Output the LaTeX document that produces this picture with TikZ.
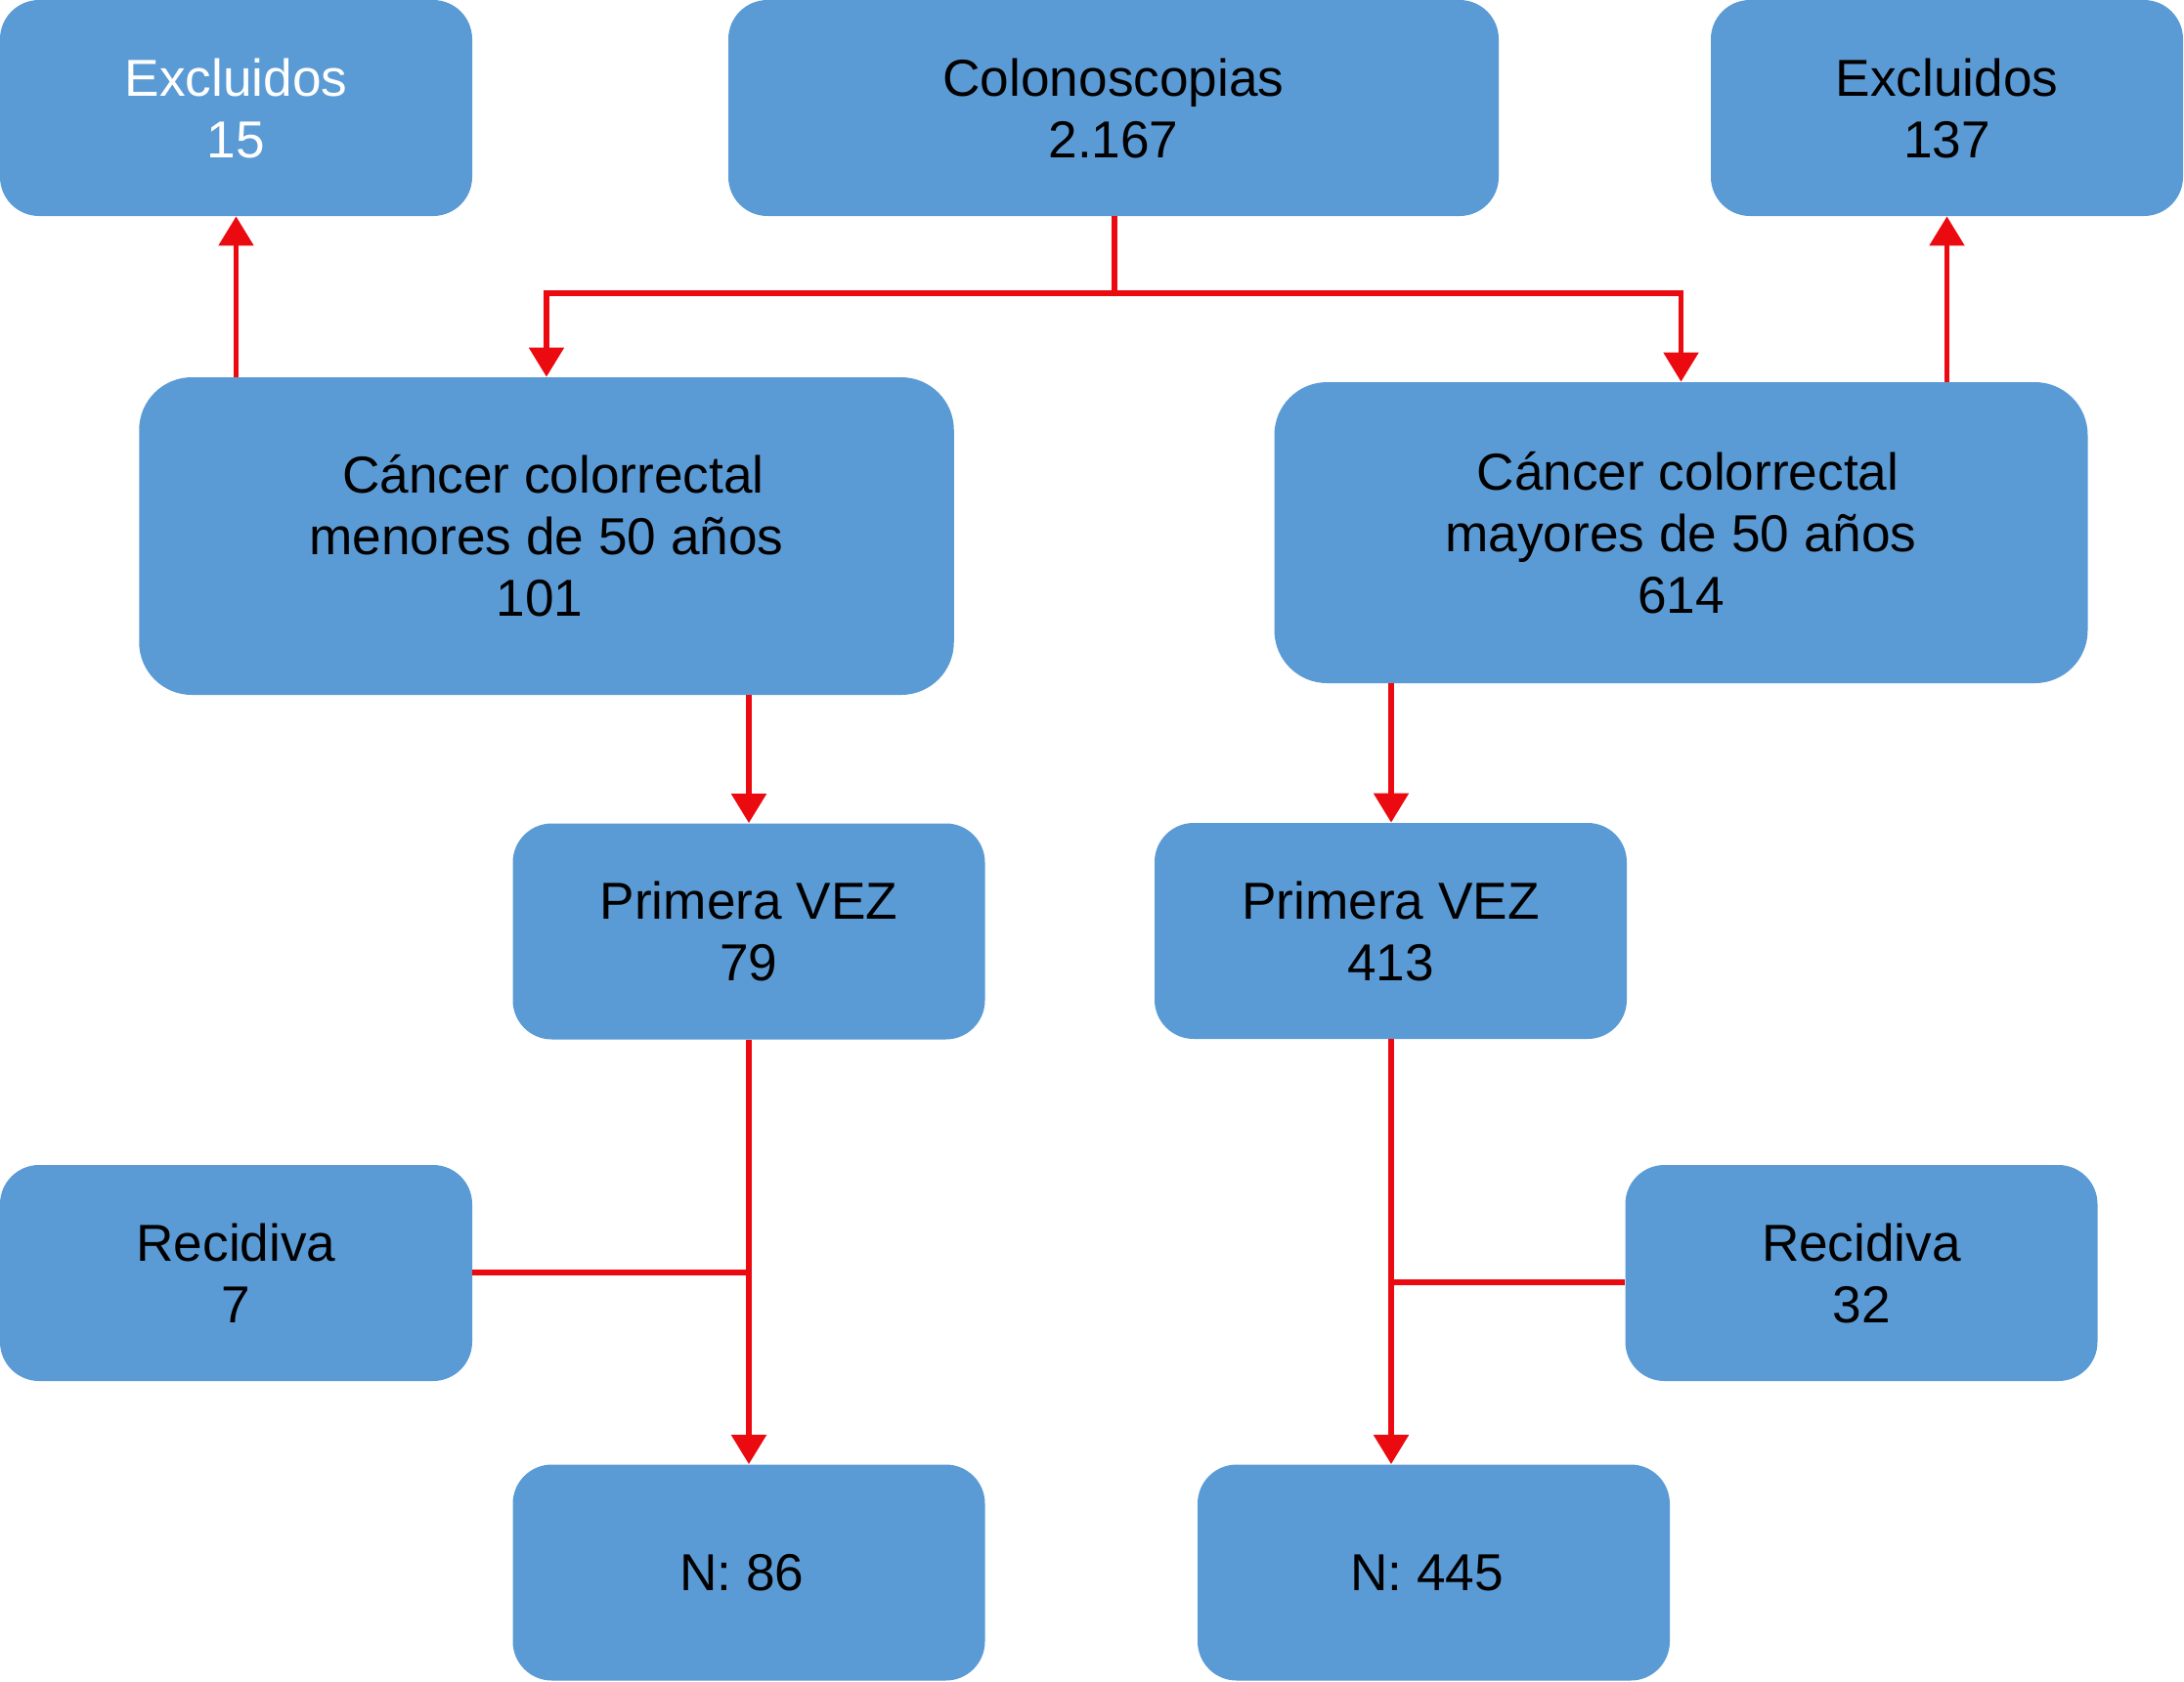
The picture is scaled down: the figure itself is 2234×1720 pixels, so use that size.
\documentclass[tikz,border=0pt]{standalone}
\usepackage{fontspec}
\setmainfont{Liberation Sans}
\usetikzlibrary{arrows.meta}
\definecolor{boxblue}{HTML}{5B9BD5}
\definecolor{linered}{RGB}{234,10,16}
\tikzset{
  box/.style={fill=boxblue, draw=none, inner sep=0pt, align=center,
    font=\fontsize{26.6pt}{31.5pt}\selectfont, text=black},
  smallbox/.style={box, minimum width=241.5pt, minimum height=110.5pt, rounded corners=20pt},
  bigbox/.style={box, rounded corners=27pt},
  conn/.style={draw=linered, line width=2.7pt},
  arr/.style={conn, -{Triangle[width=17.5pt,length=15pt]}},
}
\begin{document}
\begin{tikzpicture}[x=0.5pt,y=-0.5pt]
\useasboundingbox (0,0) rectangle (2234,1720);
% nodes
\node[smallbox, text=white] (ex1) at (241.5,110.5) {Excluidos\\15};
\node[smallbox, minimum width=394pt] (colo) at (1139,110.5) {Colonoscopias\\2.167};
\node[smallbox] (ex2) at (1991.5,110.5) {Excluidos\\137};
\node[bigbox, minimum width=416.75pt, minimum height=162.5pt] (cm) at (559,548.5)
  {\hspace*{7pt}Cáncer colorrectal\\menores de 50 años\\101\hspace*{7pt}};
\node[bigbox, minimum width=416pt, minimum height=154pt] (cM) at (1719.5,545)
  {\hspace*{7pt}Cáncer colorrectal\\mayores de 50 años\\614};
\node[smallbox] (p1) at (766,953) {Primera VEZ\\79};
\node[smallbox] (p2) at (1422.5,952.5) {Primera VEZ\\413};
\node[smallbox] (r1) at (241.5,1302.5) {Recidiva\\7};
\node[smallbox] (r2) at (1904,1302.5) {Recidiva\\32};
\node[smallbox] (n1) at (766,1609) {N: 86\hspace*{7pt}};
\node[smallbox] (n2) at (1466.5,1609) {N: 445\hspace*{7pt}};
% junction coordinates
\coordinate (split) at (1140,300);
\coordinate (j1) at (766,1302);
\coordinate (j2) at (1423,1312);
% connectors
\draw[conn] (colo.south -| split) -- (split);
\draw[arr] (split) -| (cm.north);
\draw[arr] (split) -| (1719.5,300) -- (cM.north);
\draw[arr] (cm.north -| ex1.south) -- (ex1.south);
\draw[arr] (cM.north -| ex2.south) -- (ex2.south);
\draw[arr] (cm.south -| p1.north) -- (p1.north);
\draw[arr] (cM.south -| j2) -- (p2.north -| j2);
\draw[arr] (p1.south) -- (n1.north);
\draw[arr] (p2.south -| j2) -- (n2.north -| j2);
\draw[conn] (r1.east |- j1) -- (j1);
\draw[conn] (r2.west |- j2) -- (j2);
\end{tikzpicture}
\end{document}
